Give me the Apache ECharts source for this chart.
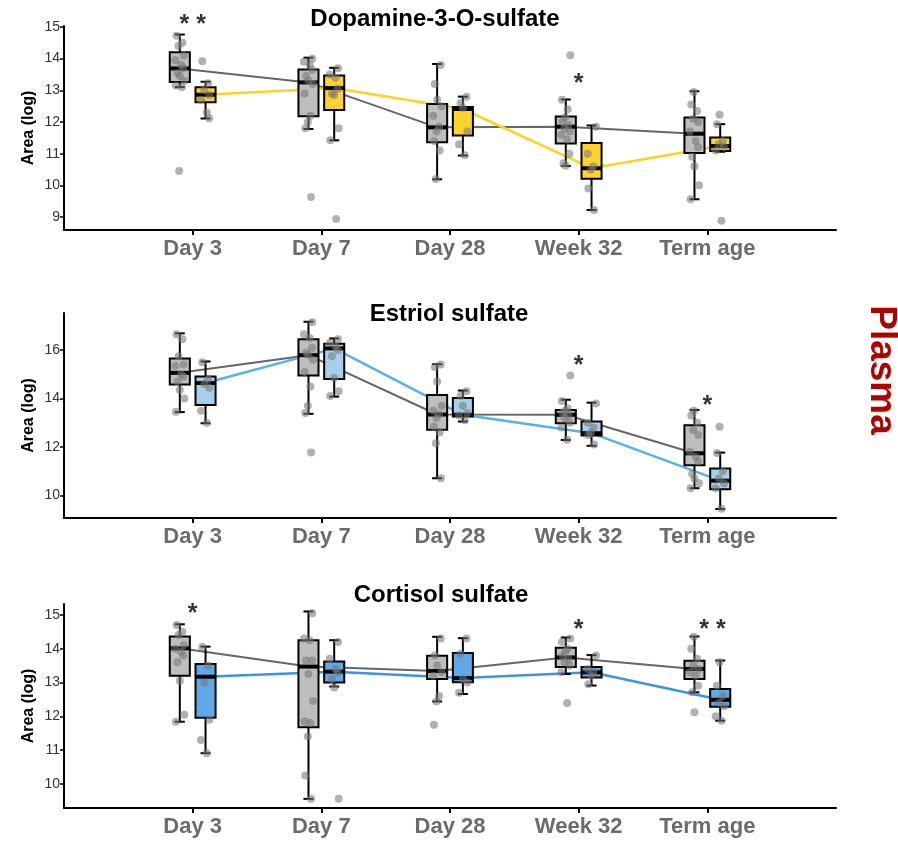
<!DOCTYPE html>
<html><head><meta charset="utf-8">
<script src="https://cdn.jsdelivr.net/npm/echarts@6/dist/echarts.min.js"></script>
<style>html,body{margin:0;padding:0;background:#fff}#c{width:898px;height:850px}</style>
</head><body><div id="c"></div>
<script>
const categories = ['Day 3', 'Day 7', 'Day 28', 'Week 32', 'Term age'];
const panelTitles = ['Dopamine-3-O-sulfate', 'Estriol sulfate', 'Cortisol sulfate'];

// box stats per category: [whiskerLow, q1, median, q3, whiskerHigh]
const dopaGrayBox = [[13.10,13.26,13.69,14.20,14.76],[11.78,12.18,13.25,13.66,14.03],[10.19,11.36,11.83,12.57,13.83],[10.61,11.32,11.85,12.17,12.71],[9.56,11.02,11.63,12.14,12.97]];
const dopaColBox  = [[12.11,12.62,12.86,13.10,13.27],[11.42,12.38,13.07,13.47,13.71],[10.94,11.57,12.41,12.47,12.80],[9.22,10.21,10.54,11.34,11.89],[11.06,11.08,11.24,11.51,11.93]];
const dopaGrayPts = [[14.72,14.5,14.4,14.1,13.95,13.8,13.7,13.55,13.45,13.3,13.15,13.1,10.45],[14.0,13.9,13.8,13.65,13.45,13.3,13.2,12.9,12.2,12.0,11.8,9.63],[13.8,13.2,12.7,12.5,12.2,11.85,11.7,11.4,11.1,10.2],[14.11,12.7,12.4,12.15,12.0,11.9,11.8,11.7,11.6,11.45,11.0,10.7,10.62],[12.95,12.55,12.35,12.1,12.0,11.7,11.4,11.2,10.9,10.6,10.0,9.56]];
const dopaColPts  = [[13.92,13.22,13.0,12.85,12.7,12.3,12.12],[13.7,13.5,13.4,13.05,12.9,12.85,11.8,11.42,8.94],[12.8,12.6,12.45,11.7,11.3,10.95],[11.85,11.0,10.6,10.5,9.9,9.22],[12.23,11.93,11.4,11.3,11.2,11.1,8.88]];
const dopaStars = [[1, 15.24, '* *'], [4, 13.39, '*']];

const estrGrayBox = [[13.44,14.58,15.06,15.65,16.69],[13.37,14.95,15.79,16.45,17.17],[10.71,12.71,13.34,14.15,15.42],[12.29,12.98,13.33,13.53,13.95],[10.30,11.25,11.74,12.90,13.53]];
const estrColBox  = [[12.98,13.73,14.64,14.91,15.53],[14.08,14.81,16.07,16.26,16.48],[13.05,13.26,13.33,14.02,14.33],[12.05,12.47,12.57,13.05,13.83],[9.44,10.26,10.61,11.11,11.77]];
const estrGrayPts = [[16.65,16.45,15.75,15.4,15.35,15.0,14.9,14.7,14.35,14.0,13.45],[17.15,16.65,16.5,16.1,15.9,15.8,15.6,15.1,14.5,13.7,13.4,11.77],[15.4,15.3,14.7,13.7,13.5,13.35,13.2,12.85,12.6,12.15,10.71],[14.95,13.9,13.6,13.5,13.4,13.3,13.2,13.0,12.8,12.3],[13.5,13.3,13.0,12.7,12.5,11.8,11.6,11.4,10.9,10.7,10.5,10.3]];
const estrColPts  = [[15.5,14.8,14.6,14.45,13.5,13.0],[16.45,16.3,16.15,16.0,15.75,14.85,14.3,14.1],[14.3,14.1,13.7,13.4,13.3,13.1],[13.8,13.0,12.8,12.6,12.5,12.1],[12.84,11.75,11.0,10.7,10.5,10.3,9.45]];
const estrStars = [[4, 15.6, '*'], [5, 13.95, '*']];

const cortGrayBox = [[11.84,13.20,14.01,14.36,14.72],[9.56,11.68,13.47,14.25,15.10],[12.44,13.10,13.34,13.79,14.35],[13.25,13.46,13.74,14.03,14.33],[12.71,13.10,13.40,13.64,14.36]];
const cortColBox  = [[10.91,11.96,13.17,13.55,14.06],[12.88,13.00,13.32,13.62,14.25],[12.66,13.01,13.13,13.87,14.31],[12.91,13.15,13.30,13.46,13.81],[11.87,12.28,12.49,12.81,13.65]];
const cortGrayPts = [[14.7,14.5,14.4,14.1,14.0,13.9,13.8,13.6,13.05,12.05,11.84],[15.05,14.3,14.25,13.65,13.65,13.25,12.45,11.85,11.8,11.4,10.25,9.56],[14.3,13.8,13.5,13.3,13.2,12.6,12.44,11.75],[14.3,14.2,14.0,13.9,13.8,13.7,13.6,13.5,13.3,12.39],[14.35,14.0,13.7,13.5,13.4,13.3,13.2,12.9,12.71,12.12]];
const cortColPts  = [[14.05,13.5,13.0,11.9,11.3,10.91],[14.2,13.7,13.4,13.3,13.1,12.85,9.56],[14.3,13.85,13.1,13.0,12.7],[13.8,13.4,13.3,13.2,12.95],[13.6,12.9,12.6,12.4,12.3,12.0,11.87]];
const cortStars = [[1, 15.2, '*'], [4, 14.72, '*'], [5.04, 14.72, '* *']];

const dopaYTicks = [9, 10, 11, 12, 13, 14, 15];
const estrYTicks = [10, 12, 14, 16];
const cortYTicks = [10, 11, 12, 13, 14, 15];

// layout / style
const FONT = 'Liberation Sans, Arial, Helvetica, sans-serif';
const OFF = 0.1, BOX_W = 0.156, CAP_W = 0.078;
const JIT = [-0.025, 0.02, -0.01, 0.03, -0.035, 0.01, 0.028, -0.018, 0.0, 0.035, -0.03, 0.015, -0.005];
const panels = [
  {gray: dopaGrayBox, col: dopaColBox, gp: dopaGrayPts, cp: dopaColPts, stars: dopaStars, ticks: dopaYTicks, min: 8.59, max: 15.03, fill: '#FFD22E', line: '#FFD21F', top: 26, h: 204, title: panelTitles[0], tx: 435, ty: 19},
  {gray: estrGrayBox, col: estrColBox, gp: estrGrayPts, cp: estrColPts, stars: estrStars, ticks: estrYTicks, min: 9.07, max: 17.53, fill: '#A8CFEA', line: '#58B2E8', top: 313, h: 205, title: panelTitles[1], tx: 449, ty: 314},
  {gray: cortGrayBox, col: cortColBox, gp: cortGrayPts, cp: cortColPts, stars: cortStars, ticks: cortYTicks, min: 9.29, max: 15.32, fill: '#5FA9E8', line: '#3E93E2', top: 604, h: 204, title: panelTitles[2], tx: 441, ty: 595}
];

function boxRender(offset, fill) {
  return function (params, api) {
    const x = api.value(0) + offset;
    const lo = api.coord([x, api.value(1)]);
    const q1 = api.coord([x, api.value(2)]);
    const md = api.coord([x, api.value(3)]);
    const q3 = api.coord([x, api.value(4)]);
    const hi = api.coord([x, api.value(5)]);
    const hw = api.size([BOX_W / 2, 0])[0];
    const cw = api.size([CAP_W / 2, 0])[0];
    const cx = lo[0];
    const ls = {stroke: '#000', lineWidth: 2};
    return {type: 'group', children: [
      {type: 'line', shape: {x1: cx, y1: hi[1], x2: cx, y2: q3[1]}, style: ls},
      {type: 'line', shape: {x1: cx, y1: q1[1], x2: cx, y2: lo[1]}, style: ls},
      {type: 'line', shape: {x1: cx - cw, y1: hi[1], x2: cx + cw, y2: hi[1]}, style: ls},
      {type: 'line', shape: {x1: cx - cw, y1: lo[1], x2: cx + cw, y2: lo[1]}, style: ls},
      {type: 'rect', shape: {x: cx - hw, y: q3[1], width: 2 * hw, height: q1[1] - q3[1]}, style: {fill: fill, stroke: '#000', lineWidth: 2}},
      {type: 'line', shape: {x1: cx - hw, y1: md[1], x2: cx + hw, y2: md[1]}, style: {stroke: '#000', lineWidth: 4}}
    ]};
  };
}

function pts(arr, offset) {
  const out = [];
  arr.forEach((vals, k) => vals.forEach((v, j) => out.push([k + 1 + offset + JIT[(j + k * 3) % JIT.length], v])));
  return out;
}

const grid = [], xAxis = [], yAxis = [], series = [], graphic = [];
panels.forEach((p, i) => {
  grid.push({left: 64, right: 62, top: p.top, height: p.h});
  xAxis.push({
    type: 'value', gridIndex: i, min: 0, max: 6,
    axisLine: {show: true, lineStyle: {color: '#000', width: 2}},
    axisTick: {show: true, customValues: [1, 2, 3, 4, 5], length: 5, lineStyle: {color: '#000', width: 2}},
    axisLabel: {customValues: [1, 2, 3, 4, 5], formatter: v => categories[Math.round(v) - 1] || '', fontSize: 22, fontWeight: 'bold', color: '#6b6b6b', fontFamily: FONT, margin: 8},
    splitLine: {show: false}
  });
  yAxis.push({
    type: 'value', gridIndex: i, min: p.min, max: p.max,
    axisLine: {show: true, lineStyle: {color: '#000', width: 2}},
    axisTick: {show: true, customValues: p.ticks, length: 4, lineStyle: {color: '#000', width: 1.5}},
    axisLabel: {customValues: p.ticks, fontSize: 14, color: '#333', fontFamily: FONT, margin: 4},
    splitLine: {show: false},
    name: 'Area (log)', nameLocation: 'middle', nameGap: 27, nameMoveOverlap: false,
    nameTextStyle: {fontSize: 16, fontWeight: 'bold', color: '#000', fontFamily: FONT}
  });
  series.push({type: 'line', xAxisIndex: i, yAxisIndex: i, data: p.gray.map((b, k) => [k + 1 - OFF, b[2]]), symbol: 'none', lineStyle: {color: '#666', width: 2}, z: 1, silent: true});
  series.push({type: 'line', xAxisIndex: i, yAxisIndex: i, data: p.col.map((b, k) => [k + 1 + OFF, b[2]]), symbol: 'none', lineStyle: {color: p.line, width: 2.5}, z: 1, silent: true});
  series.push({type: 'custom', xAxisIndex: i, yAxisIndex: i, data: p.gray.map((b, k) => [k + 1, ...b]), renderItem: boxRender(-OFF, '#BEBEBE'), encode: {x: 0, y: [1, 2, 3, 4, 5]}, z: 2, silent: true});
  series.push({type: 'custom', xAxisIndex: i, yAxisIndex: i, data: p.col.map((b, k) => [k + 1, ...b]), renderItem: boxRender(OFF, p.fill), encode: {x: 0, y: [1, 2, 3, 4, 5]}, z: 2, silent: true});
  series.push({type: 'scatter', xAxisIndex: i, yAxisIndex: i, data: pts(p.gp, -OFF), symbolSize: 8, itemStyle: {color: 'rgba(120,120,120,0.72)'}, z: 3, silent: true});
  series.push({type: 'scatter', xAxisIndex: i, yAxisIndex: i, data: pts(p.cp, OFF), symbolSize: 8, itemStyle: {color: 'rgba(120,120,120,0.72)'}, z: 3, silent: true});
  series.push({type: 'scatter', xAxisIndex: i, yAxisIndex: i, data: p.stars, symbolSize: 0, clip: false, z: 4, silent: true,
    label: {show: true, position: 'inside', formatter: q => q.data[2], fontSize: 25, fontWeight: 'bold', color: '#000', fontFamily: FONT, offset: [0, 6]}});
  graphic.push({type: 'text', x: p.tx, y: p.ty, style: {text: p.title, fontSize: 24, fontWeight: 'bold', fontFamily: FONT, fill: '#000', align: 'center', verticalAlign: 'middle', textAlign: 'center', textVerticalAlign: 'middle'}});
});
graphic.push({type: 'text', x: 881, y: 370, rotation: -Math.PI / 2, style: {text: 'Plasma', fontSize: 37, fontWeight: 'bold', fontFamily: FONT, fill: '#B00000', align: 'center', verticalAlign: 'middle', textAlign: 'center', textVerticalAlign: 'middle'}});

const chart = echarts.init(document.getElementById('c'), null, {renderer: 'canvas'});
chart.setOption({animation: false, backgroundColor: '#fff', textStyle: {fontFamily: FONT}, grid, xAxis, yAxis, series, graphic});
</script></body></html>
